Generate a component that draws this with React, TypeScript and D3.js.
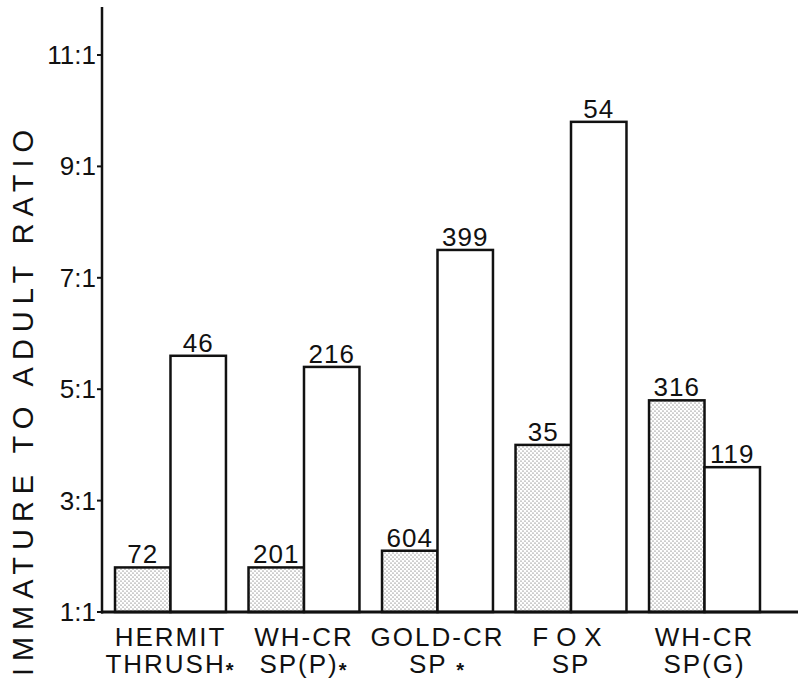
import React from "react";
import * as d3 from "d3";

const speciesLine1 = ["HERMIT", "WH-CR", "GOLD-CR", "FOX", "WH-CR"];
const speciesLine2 = ["THRUSH*", "SP(P)*", "SP *", "SP", "SP(G)"];
const stippledRatio = [1.8, 1.8, 2.1, 4.0, 4.8];
const stippledN = [72, 201, 604, 35, 316];
const openRatio = [5.6, 5.4, 7.5, 9.8, 3.6];
const openN = [46, 216, 399, 54, 119];
const yTicks = [1, 3, 5, 7, 9, 11];
const yTickLabels = ["1:1", "3:1", "5:1", "7:1", "9:1", "11:1"];
const yTitle = "IMMATURE TO ADULT RATIO";

const W = 798;
const H = 681;
const FONT = "'Liberation Sans', Arial, sans-serif";
const INK = "#111";

export default function App() {
  const axisX = 102;
  const baseY = 612;
  const y = d3.scaleLinear().domain([1, 11]).range([baseY, 55]);
  const x = d3
    .scaleBand<number>()
    .domain(speciesLine1.map((_, i) => i))
    .range([103, 772])
    .paddingInner(0.169)
    .paddingOuter(0.09);
  const sub = d3
    .scaleBand<string>()
    .domain(["stippled", "open"])
    .range([0, x.bandwidth()])
    .padding(0);

  const renderLine2 = (s: string) => {
    const star = s.endsWith("*");
    const main = star ? s.slice(0, -1) : s;
    return (
      <>
        {main}
        {star && (
          <tspan fontWeight="bold" fontSize={20} dy={4}>
            *
          </tspan>
        )}
      </>
    );
  };

  return (
    <svg
      width={W}
      height={H}
      style={{ position: "absolute", left: 0, top: 0, background: "#fff" }}
      fontFamily={FONT}
    >
      <defs>
        <pattern id="stipple" width={4} height={4} patternUnits="userSpaceOnUse">
          <rect width={4} height={4} fill="#fff" />
          <circle cx={1} cy={1} r={0.6} fill="#444" />
          <circle cx={3} cy={3} r={0.6} fill="#444" />
        </pattern>
      </defs>
      <rect width={W} height={H} fill="#fff" />

      {/* Y axis title */}
      <text
        transform={`translate(33, 403) rotate(-90)`}
        textAnchor="middle"
        fontSize={29}
        fill={INK}
        textLength={546}
        lengthAdjust="spacing"
      >
        {yTitle}
      </text>

      {/* Bars */}
      {speciesLine1.map((_, i) => {
        const gx = x(i)!;
        const bw = sub.bandwidth();
        const xs = gx + sub("stippled")!;
        const xo = gx + sub("open")!;
        const ys = y(stippledRatio[i]);
        const yo = y(openRatio[i]);
        return (
          <g key={i}>
            <rect
              x={xs}
              y={ys}
              width={bw}
              height={baseY - ys}
              fill="url(#stipple)"
              stroke={INK}
              strokeWidth={2.5}
            />
            <rect
              x={xo}
              y={yo}
              width={bw}
              height={baseY - yo}
              fill="#fff"
              stroke={INK}
              strokeWidth={2.5}
            />
            <text
              x={xs + bw / 2}
              y={ys - 4}
              textAnchor="middle"
              fontSize={26}
              letterSpacing={1}
              fill={INK}
            >
              {stippledN[i]}
            </text>
            <text
              x={xo + bw / 2}
              y={yo - 4}
              textAnchor="middle"
              fontSize={26}
              letterSpacing={1}
              fill={INK}
            >
              {openN[i]}
            </text>
            <text
              x={gx + x.bandwidth() / 2}
              y={646}
              textAnchor="middle"
              fontSize={26}
              letterSpacing={speciesLine1[i] === "FOX" ? 8 : 2}
              fill={INK}
            >
              {speciesLine1[i]}
            </text>
            <text
              x={gx + x.bandwidth() / 2}
              y={673}
              textAnchor="middle"
              fontSize={26}
              letterSpacing={2}
              fill={INK}
            >
              {renderLine2(speciesLine2[i])}
            </text>
          </g>
        );
      })}

      {/* Y axis */}
      <line x1={axisX} x2={axisX} y1={7} y2={baseY + 1.5} stroke={INK} strokeWidth={2.5} />
      {yTicks.map((t, i) => (
        <g key={t}>
          <line x1={axisX - 5} x2={axisX} y1={y(t)} y2={y(t)} stroke={INK} strokeWidth={2} />
          <text
            x={axisX - 6}
            y={y(t) + 9}
            textAnchor="end"
            fontSize={26}
            fill={INK}
          >
            {yTickLabels[i]}
          </text>
        </g>
      ))}
      {/* Baseline */}
      <line x1={axisX - 1} x2={W} y1={baseY} y2={baseY} stroke={INK} strokeWidth={3} />
    </svg>
  );
}
